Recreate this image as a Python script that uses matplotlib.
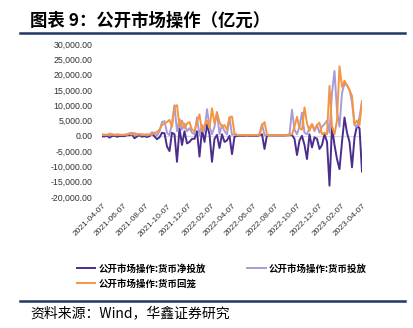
import numpy as np
import pandas as pd
import matplotlib
matplotlib.use("Agg")
import matplotlib.pyplot as plt
from matplotlib.lines import Line2D
from matplotlib.ticker import FuncFormatter

plt.rcParams['font.family'] = ['Noto Sans CJK SC', 'DejaVu Sans']

# weekly values, 2021-04-07 .. 2023-04-07 (亿元)
inject = [300, 200, 300, 100, 400, 300, 200, 300, 200, 300,
          500, 800, 1000, 100, 300, 600, 200, 300, 100, 300,
          1200, 800, 100, 1500, 4500, 4800, 1000, 200, 4000, 10000,
          1500, 5500, 2000, 4000, 1500, 2500, 1000, 500, 6000, 200,
          3500, 1500, 8700, 3000, 500, 3000, 7800, 500, 3500, 1500,
          500, 6000, 300, 500, 300, 200, 200, 200, 300, 200,
          200, 200, 200, 500, 3800, 200, 300, 200, 200, 200,
          200, 200, 200, 200, 300, 500, 8500, 2000, 500, 3000,
          7600, 1000, 500, 2500, 3800, 1500, 3500, 1000, 3000, 3800,
          5000, 1000, 14000, 21200, 8000, 3000, 14000, 17000, 16500, 15000,
          11000, 3500, 3000, 6000, 11400]
withdraw = [500, 400, 300, 700, 500, 300, 500, 400, 300, 400,
            300, 600, 500, 900, 500, 400, 500, 400, 500, 400,
            500, 1000, 1200, 2000, 3500, 4000, 4500, 5200, 3000, 9500,
            10000, 3000, 5000, 2500, 4000, 4500, 2000, 1500, 4500, 7000,
            1500, 3500, 5000, 2500, 9000, 4000, 7500, 4500, 3000, 3500,
            2000, 6000, 6300, 800, 300, 200, 200, 200, 200, 200,
            200, 200, 200, 300, 3300, 4500, 300, 100, 100, 100,
            100, 100, 100, 100, 100, 300, 500, 3000, 6200, 2500,
            2000, 9300, 4000, 1600, 3800, 2000, 3500, 4300, 500, 1000,
            500, 16300, 3000, 500, 5000, 22700, 16000, 18000, 16500, 15000,
            13000, 3800, 5000, 3500, 11100]
net = [-200, -200, 0, -600, -100, 0, -300, -100, -100, -100,
       200, 200, 500, -800, -200, 200, -300, -100, -400, -100,
       700, -200, -1100, -500, 1000, 800, -3500, -5000, 1000, 500,
       -8500, 2500, -3000, 1500, -2500, -2000, -1000, -1000, 1500, -6800,
       2000, -2000, 3700, 500, -8500, -1000, 300, -4000, 500, -2000,
       -1500, 0, -6000, -300, 0, 0, 0, 0, 100, 0,
       0, 0, 0, 200, 500, -4300, 200, 100, 100, 100,
       100, 100, 100, 100, 200, 200, 300, -1000, -6300, -1500,
       0, -3000, -7600, 500, -3800, -500, -1000, -4300, -3000, 500,
       -2000, -16300, 3000, -3000, -7600, -10900, -2000, 6000, 1000, -2000,
       -10300, -500, 3300, 2500, -11700]

labels = ['公开市场操作:货币净投放', '公开市场操作:货币投放', '公开市场操作:货币回笼']
colors = ['#4b2d8e', '#a89cd6', '#f7953f']

start, end = pd.Timestamp('2021-04-07'), pd.Timestamp('2023-04-07')
dates = pd.date_range(start, end, periods=len(net))

fig = plt.figure(figsize=(4.14, 3.28), dpi=100)
ax = fig.add_axes([102/414, 1-197/328, 260/414, 153/328])

ax.hlines(0, dates[0], dates[-1], color='#d9d9d9', lw=0.8, zorder=0)
h1, = ax.plot(dates, net, color=colors[0], lw=1.4)
h2, = ax.plot(dates, inject, color=colors[1], lw=1.4)
h3, = ax.plot(dates, withdraw, color=colors[2], lw=1.4)

ax.set_xlim(start, end)
ax.set_ylim(-20000, 30000)
ax.set_yticks(np.arange(-20000, 30001, 5000))
ax.yaxis.set_major_formatter(FuncFormatter(lambda v, p: f'{v:,.2f}'))
xt = [start + pd.DateOffset(months=2 * k) for k in range(13)]
ax.set_xticks(xt)
ax.set_xticklabels([d.strftime('%Y-%m-%d') for d in xt], rotation=45,
                   ha='right', va='top', rotation_mode='anchor')
for s in ax.spines.values():
    s.set_visible(False)
ax.tick_params(axis='y', length=0, pad=7, labelsize=6.3, labelcolor='#333333')
ax.tick_params(axis='x', length=0, pad=4, labelsize=6, labelcolor='#333333')
for t in ax.get_yticklabels() + ax.get_xticklabels():
    t.set_family(['Liberation Sans', 'DejaVu Sans'])

# column-major fill -> reorder so rows read: net, inject / withdraw
fig.legend([h1, h3, h2], [labels[0], labels[2], labels[1]], ncol=2,
           loc='upper left', bbox_to_anchor=(68/414, 1-255/328), frameon=False,
           prop={'family': 'Noto Sans CJK SC', 'weight': 'bold', 'size': 6.8},
           handlelength=2.0, handletextpad=0.3, columnspacing=4.4,
           labelspacing=0.5)

fig.add_artist(Line2D([20/414, 405/414], [1-33/328]*2, lw=1.8, color='#1f3864'))
fig.add_artist(Line2D([20/414, 405/414], [1-301/328]*2, lw=1.8, color='#1f3864'))

fig.text(30/414, 1-21/328, '图表 9：公开市场操作（亿元）', fontsize=12.5,
         fontweight='bold', va='center', ha='left')
fig.text(30/414, 1-313/328, '资料来源：Wind，华鑫证券研究', fontsize=10,
         va='center', ha='left')

fig.savefig('out.png', dpi=100)
